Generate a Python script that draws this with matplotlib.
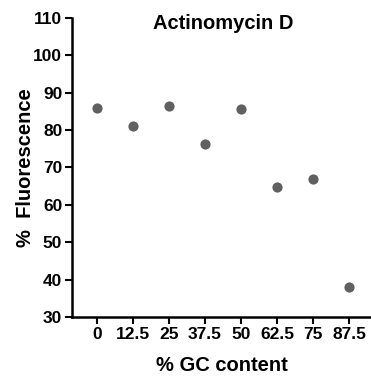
import matplotlib
matplotlib.use("Agg")
import matplotlib.pyplot as plt

categories = ["0", "12.5", "25", "37.5", "50", "62.5", "75", "87.5"]
fluorescence = [85.9, 81.0, 86.5, 76.2, 85.6, 64.8, 67.0, 38.0]
yticks = [30, 40, 50, 60, 70, 80, 90, 100, 110]

plt.rcParams['font.family'] = ['Liberation Sans', 'DejaVu Sans']
plt.rcParams['font.weight'] = 'bold'

fig = plt.figure(figsize=(3.71, 3.79), dpi=100)
ax = fig.add_axes([0.194, 0.1636, 0.806, 0.7889])
x = list(range(len(categories)))
ax.scatter(x, fluorescence, s=54, color='#606060', zorder=3, linewidths=0)
ax.set_xlim(-0.69, 7.6)
ax.set_ylim(30, 110)
ax.set_yticks(yticks)
ax.set_xticks(x)
ax.set_xticklabels(categories)
for s in ['top', 'right']:
    ax.spines[s].set_visible(False)
for s in ['left', 'bottom']:
    ax.spines[s].set_linewidth(1.8)
ax.tick_params(direction='out', length=5, width=1.5, labelsize=12.5, pad=2)
ax.set_xlabel('% GC content', fontsize=14.5, fontweight='bold', labelpad=10.5)
ax.set_ylabel('%  Fluorescence', fontsize=14.5, fontweight='bold', labelpad=-1)
ax.text(0.505, 0.98, 'Actinomycin D', transform=ax.transAxes, ha='center', va='center',
        fontsize=14.5, fontweight='bold')
fig.savefig('out.png', dpi=100)
